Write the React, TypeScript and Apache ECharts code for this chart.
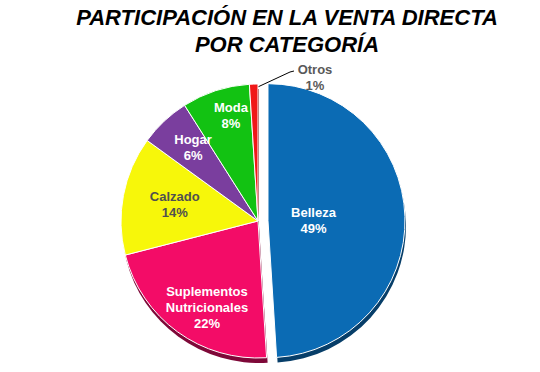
import React, { useEffect, useRef } from "react";
import * as echarts from "echarts";

const categories = ["Belleza", "Suplementos Nutricionales", "Calzado", "Hogar", "Moda", "Otros"];
const shares = [49, 22, 14, 6, 8, 1];
const sliceColors = ["#0B6BB4", "#F30C67", "#F7F70A", "#7A3E9E", "#12C212", "#F01818"];
const depthColors = ["#073E69", "#7E0838", "#B5B50A", "#40205A", "#0A7A0A", "#850D0D"];
const labelColors = ["#FFFFFF", "#FFFFFF", "#505050", "#FFFFFF", "#FFFFFF", "#595959"];
const titleLines = ["PARTICIPACIÓN EN LA VENTA DIRECTA", "POR CATEGORÍA"];

const labelNudges: number[][] = [[-26, 2], [-9, 29], [-13, -3], [-16, -21], [-5, -37], [0, 0]];

export default function App() {
  const ref = useRef<HTMLDivElement>(null);
  useEffect(() => {
    if (!ref.current) return;
    const chart = echarts.init(ref.current, null, { renderer: "svg" });
    const font = "'Liberation Sans', Arial, sans-serif";
    const last = categories.length - 1;
    const mainData = categories.map((name, i) => ({
      name,
      value: shares[i],
      selected: i === 0,
      itemStyle: { color: sliceColors[i] },
      label: {
        color: labelColors[i],
        position: i === last ? "outside" : "inside",
      },
      labelLine: { show: i === last },
    }));
    const depthData = categories.map((name, i) => ({
      name,
      value: shares[i],
      selected: i === 0,
      itemStyle: { color: depthColors[i] },
    }));
    chart.setOption({
      animation: false,
      title: {
        text: titleLines.join("\n"),
        left: 287,
        textAlign: "center",
        top: 0,
        padding: [4, 0, 0, 0],
        textStyle: {
          fontFamily: font,
          fontSize: 22,
          fontWeight: "bold",
          fontStyle: "italic",
          color: "#000",
          lineHeight: 27,
        },
      },
      series: [
        {
          type: "pie",
          silent: true,
          z: 1,
          center: [259, 226],
          radius: 137,
          startAngle: 90,
          clockwise: true,
          selectedMode: "single",
          selectedOffset: 10,
          label: { show: false },
          labelLine: { show: false },
          itemStyle: { borderWidth: 0 },
          emphasis: { disabled: true },
          data: depthData,
        },
        {
          type: "pie",
          z: 2,
          center: [258, 221],
          radius: 137,
          startAngle: 90,
          clockwise: true,
          selectedMode: "single",
          selectedOffset: 10,
          emphasis: { disabled: true },
          itemStyle: { borderColor: "#fff", borderWidth: 1 },
          label: {
            show: true,
            fontFamily: font,
            fontSize: 13,
            fontWeight: "bold",
            lineHeight: 16,
            align: "center",
            formatter: (p: any) => `${String(p.name).replace(" ", "\n")}\n${Math.round(p.percent)}%`,
          },
          labelLine: {
            show: true,
            length: 10,
            length2: 6,
            minTurnAngle: 0,
            maxSurfaceAngle: 180,
            lineStyle: { color: "#000", width: 1 },
          },
          labelLayout: (p: any) => {
            const i = p.dataIndex;
            if (i === last) {
              const x = 315;
              const y = 77;
              const r = p.rect;
              const start = [r.x + r.width / 2 + 3, r.y + 4];
              return {
                x,
                y,
                align: "center",
                verticalAlign: "middle",
                labelLinePoints: [start, [x - 25, y - 5], [x - 21, y - 6]],
              };
            }
            return { dx: labelNudges[i][0], dy: labelNudges[i][1] };
          },
          data: mainData,
        },
      ],
    });
    return () => chart.dispose();
  }, []);
  return (
    <div
      ref={ref}
      style={{ position: "fixed", left: 0, top: 0, width: 540, height: 372, background: "#fff" }}
    />
  );
}
